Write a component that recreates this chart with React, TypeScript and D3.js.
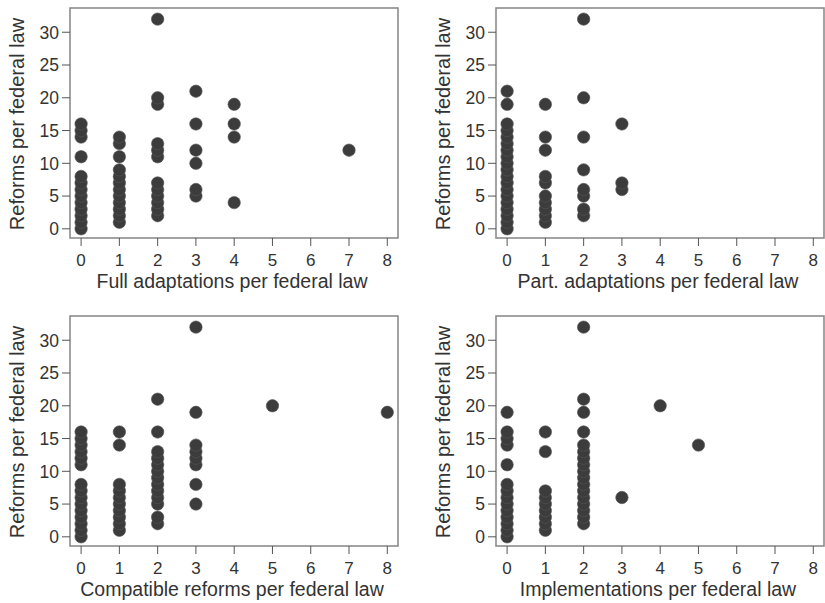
import React from "react";
import * as d3 from "d3";

// Each entry: [x value, list of y values at that x]
const fullAdaptations: [number, number[]][] = [
  [0, [0, 1, 2, 3, 4, 5, 6, 7, 8, 11, 14, 15, 16]],
  [1, [1, 2, 3, 4, 5, 6, 7, 8, 9, 11, 13, 14]],
  [2, [2, 3, 4, 5, 6, 7, 11, 12, 13, 19, 20, 32]],
  [3, [5, 6, 10, 12, 16, 21]],
  [4, [4, 14, 16, 19]],
  [7, [12]],
];
const partAdaptations: [number, number[]][] = [
  [0, [0, 1, 2, 3, 4, 5, 6, 7, 8, 9, 10, 11, 12, 13, 14, 15, 16, 19, 21]],
  [1, [1, 2, 3, 4, 5, 7, 8, 12, 14, 19]],
  [2, [2, 3, 5, 6, 9, 14, 20, 32]],
  [3, [6, 7, 16]],
];
const compatibleReforms: [number, number[]][] = [
  [0, [0, 1, 2, 3, 4, 5, 6, 7, 8, 11, 12, 13, 14, 15, 16]],
  [1, [1, 2, 3, 4, 5, 6, 7, 8, 14, 16]],
  [2, [2, 3, 5, 6, 7, 8, 9, 10, 11, 12, 13, 16, 21]],
  [3, [5, 8, 11, 12, 13, 14, 19, 32]],
  [5, [20]],
  [8, [19]],
];
const implementations: [number, number[]][] = [
  [0, [0, 1, 2, 3, 4, 5, 6, 7, 8, 11, 14, 15, 16, 19]],
  [1, [1, 2, 3, 4, 5, 6, 7, 13, 16]],
  [2, [2, 3, 4, 5, 6, 7, 8, 9, 10, 11, 12, 13, 14, 16, 19, 21, 32]],
  [3, [6]],
  [4, [20]],
  [5, [14]],
];

const xTicks = [0, 1, 2, 3, 4, 5, 6, 7, 8];
const yTicks = [0, 5, 10, 15, 20, 25, 30];
const yTitle = "Reforms per federal law";
const xTitles = [
  "Full adaptations per federal law",
  "Part. adaptations per federal law",
  "Compatible reforms per federal law",
  "Implementations per federal law",
];
const panelData = [fullAdaptations, partAdaptations, compatibleReforms, implementations];

const W = 825;
const H = 603;
const boxW = 328;
const boxH = 230;
const lefts = [70, 496];
const tops = [8, 316];
const font = "'Liberation Sans', Arial, sans-serif";
const textColor = "#333";

function Panel({ idx }: { idx: number }) {
  const left = lefts[idx % 2];
  const top = tops[Math.floor(idx / 2)];
  const x = d3.scaleLinear().domain([-0.29, 8.28]).range([left, left + boxW]);
  const y = d3.scaleLinear().domain([-1.4, 33.7]).range([top + boxH, top]);
  const pts: { x: number; y: number }[] = [];
  panelData[idx].forEach(([xv, ys]) => ys.forEach((yv) => pts.push({ x: xv, y: yv })));
  return (
    <g>
      <rect x={left} y={top} width={boxW} height={boxH} fill="white" stroke="#8c8c8c" strokeWidth={1.6} />
      {pts.map((p, i) => (
        <circle key={i} cx={x(p.x)} cy={y(p.y)} r={6.2} fill="#3c3c3c" stroke="#555" strokeWidth={0.6} />
      ))}
      {yTicks.map((t) => (
        <g key={"y" + t}>
          <line x1={left - 8} x2={left} y1={y(t)} y2={y(t)} stroke="#555" strokeWidth={1} />
          <text x={left - 11} y={y(t)} dy="0.36em" textAnchor="end" fontSize={17.5} fontFamily={font} fill={textColor}>
            {t}
          </text>
        </g>
      ))}
      {xTicks.map((t) => (
        <g key={"x" + t}>
          <line x1={x(t)} x2={x(t)} y1={top + boxH} y2={top + boxH + 8} stroke="#555" strokeWidth={1} />
          <text x={x(t)} y={top + boxH + 28} textAnchor="middle" fontSize={17} fontFamily={font} fill={textColor}>
            {t}
          </text>
        </g>
      ))}
      <text
        x={left + boxW / 2 - 2}
        y={top + boxH + 50}
        textAnchor="middle"
        fontSize={19.5}
        fontFamily={font}
        fill={textColor}
      >
        {xTitles[idx]}
      </text>
      <text
        transform={`translate(${left - 46},${top + boxH / 2 + 1}) rotate(-90)`}
        textAnchor="middle"
        fontSize={20}
        fontFamily={font}
        fill={textColor}
      >
        {yTitle}
      </text>
    </g>
  );
}

export default function App() {
  return (
    <svg width={W} height={H} style={{ position: "absolute", left: 0, top: 0, background: "white" }}>
      <rect width={W} height={H} fill="white" />
      {[0, 1, 2, 3].map((i) => (
        <Panel key={i} idx={i} />
      ))}
    </svg>
  );
}
